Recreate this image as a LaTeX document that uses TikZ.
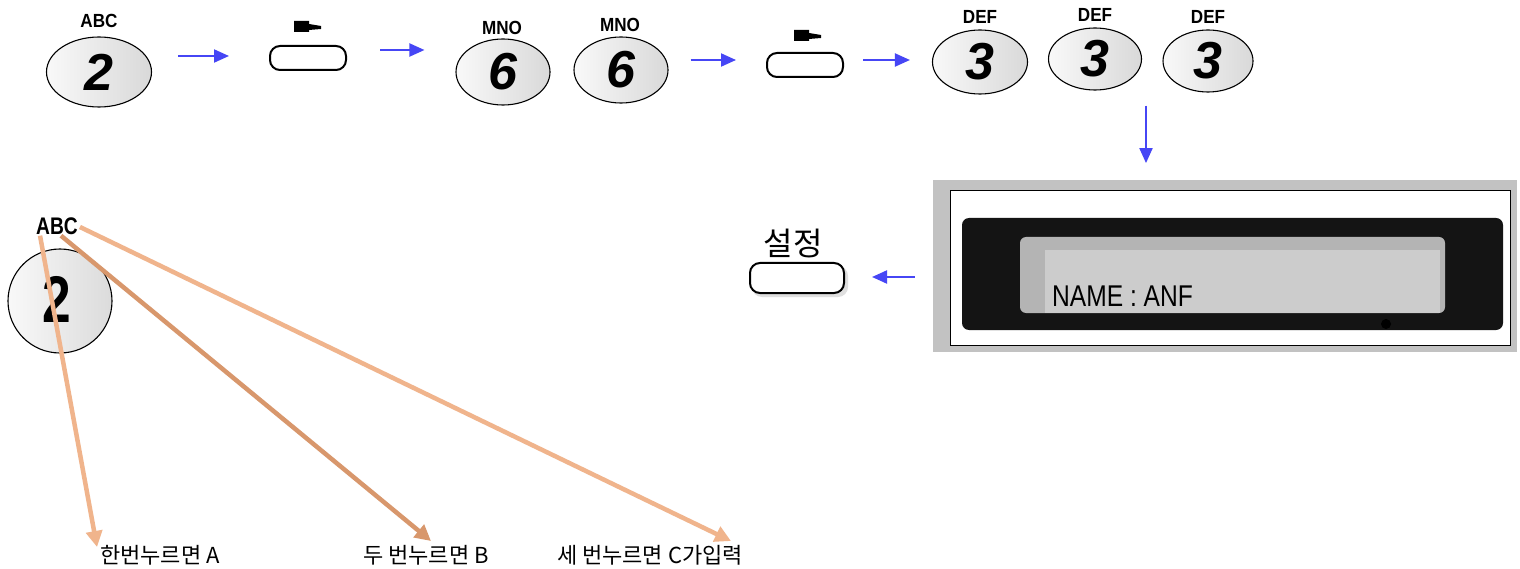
\documentclass[tikz,border=0pt]{standalone}
\usepackage{fontspec}
\setmainfont{Liberation Sans}
\newfontfamily\krfont{Noto Sans CJK KR}
\usetikzlibrary{shapes.geometric,arrows.meta,calc}
\definecolor{arrblue}{HTML}{4646F5}
\definecolor{orlight}{HTML}{F0B48C}
\definecolor{ordark}{HTML}{D8976C}
\definecolor{lcdgray}{HTML}{BDBDBD}
\definecolor{outgray}{HTML}{C2C2C2}
\tikzset{
  keyov/.style={ellipse, draw=black, line width=1.1pt, left color=gray!5, right color=gray!30, inner sep=0pt},
  keylbl/.style={font=\fontsize{19}{19}\selectfont\bfseries, inner sep=0pt, xscale=0.9},
  digit/.style={font=\fontsize{52}{52}\selectfont\bfseries\itshape},
  btnbox/.style={rectangle, rounded corners=10pt, draw=black, line width=2pt, minimum width=76pt, minimum height=24pt, inner sep=0pt, fill=white},
  bluearr/.style={draw=arrblue, line width=2pt, -{Triangle[length=15pt,width=13pt]}},
  orarr/.style={line width=4.5pt, -{Triangle[length=16pt,width=16pt]}},
  krlbl/.style={font=\krfont\fontsize{22}{22}\selectfont, inner sep=0pt, anchor=base}
}
\newcommand{\flagmark}[2]{\fill[black] ($(#1,#2)+(0,0)$) -- ++(15,0) -- ++(0,3) -- ++(12,2) -- ++(0,3) -- ++(-12,1) -- ++(0,2) -- ++(-15,0) -- cycle;}
\begin{document}
\begin{tikzpicture}[x=1pt,y=-1pt]
\useasboundingbox (0,0) rectangle (1520,569);
\fill[white] (0,0) rectangle (1520,569);
% top row keys
\node[keyov, minimum width=105pt, minimum height=70pt] (k2) at (99,72) {};
\node[digit] at (k2) {2};
\node[keylbl] (k2l) at (99,21) {ABC};
\node[btnbox] (b1) at (308,58) {};
\flagmark{294}{21}
\node[keyov, minimum width=94pt, minimum height=66pt] (k6a) at (503,72) {};
\node[digit] at (k6a) {6};
\node[keylbl] (k6al) at (502,28) {MNO};
\node[keyov, minimum width=94pt, minimum height=66pt] (k6b) at (621,70) {};
\node[digit] at (k6b) {6};
\node[keylbl] (k6bl) at (620,25) {MNO};
\node[btnbox] (b2) at (805,65) {};
\flagmark{794}{30}
\node[keyov, minimum width=95pt, minimum height=64pt] (k3a) at (980,62) {};
\node[digit] at (k3a) {3};
\node[keylbl] (k3al) at (980,17) {DEF};
\node[keyov, minimum width=93pt, minimum height=62pt] (k3b) at (1095,59) {};
\node[digit] at (k3b) {3};
\node[keylbl] (k3bl) at (1095,15) {DEF};
\node[keyov, minimum width=90pt, minimum height=62pt] (k3c) at (1208,61) {};
\node[digit] at (k3c) {3};
\node[keylbl] (k3cl) at (1208,17) {DEF};
% blue arrows
\draw[bluearr] ($(k2.east)+(26,-16)$) -- ($(b1.west)+(-40,-2)$);
\draw[bluearr] ($(b1.east)+(33,-8)$) -- ($(k6a.west)+(-31,-22)$);
\draw[bluearr] ($(k6b.east)+(22,-10)$) -- ($(b2.west)+(-30,-5)$);
\draw[bluearr] ($(b2.east)+(19,-5)$) -- ($(k3a.west)+(-22,-2)$);
% LCD panel
\fill[outgray] (933,180) rectangle (1517,352);
\node[draw=black, line width=0.8pt, fill=white, minimum width=560pt, minimum height=155pt, inner sep=0pt] (lcd) at (1230,268) {};
\fill[black!92] (962,218) [rounded corners=7pt] rectangle (1503,330);
\fill[lcdgray!95!black] (1020,237) [rounded corners=6pt] rectangle (1445,313);
\fill[gray!40] (1045,250) rectangle (1440,313);
\fill[black] (1386,324) circle (5);
\node[font=\fontsize{30}{30}\selectfont, xscale=0.82, anchor=base west, inner sep=0pt] (nm) at (1052,306) {NAME : ANF};
\draw[bluearr] ($(k3b.south)+(51,15)$) -- ($(lcd.north)+(-84,-27)$);
% setting button
\fill[gray!25] (752,266) [rounded corners=10pt] rectangle (848,297);
\node[btnbox, minimum width=94pt, minimum height=30pt] (set) at (797,278) {};
\node[font=\krfont\fontsize{32}{32}\selectfont, inner sep=0pt] (setl) at (793,244) {설정};
\draw[bluearr] ($(lcd.west)+(-35,9)$) -- ($(set.east)+(27,-1)$);
% big key 2
\node[circle, draw=black, line width=1.1pt, left color=gray!5, right color=gray!28, minimum size=104pt, inner sep=0pt] (big2) at (60,301) {};
\node[font=\fontsize{66}{66}\selectfont\bfseries, xscale=0.78, inner sep=0pt] at (57,299) {2};
\node[font=\fontsize{24}{24}\selectfont\bfseries, xscale=0.8, inner sep=0pt] (abc) at (57,226) {ABC};
% labels
\node[krlbl] (l1) at (160,563) {한번누르면 A};
\node[krlbl] (l2) at (426,563) {두 번누르면 B};
\node[krlbl] (l3) at (650,563) {세 번누르면 C가입력};
\coordinate (t1) at (97,547);
\coordinate (t2) at (431,541);
\coordinate (t3) at (731,541);
\draw[orarr, draw=orlight, fill=orlight] ($(abc.south west)+(4,1)$) -- (t1);
\draw[orarr, draw=ordark, fill=ordark] ($(abc.south)+(4,1)$) -- (t2);
\draw[orarr, draw=orlight, fill=orlight] ($(abc.east)+(2,1)$) -- (t3);
\end{tikzpicture}
\end{document}
